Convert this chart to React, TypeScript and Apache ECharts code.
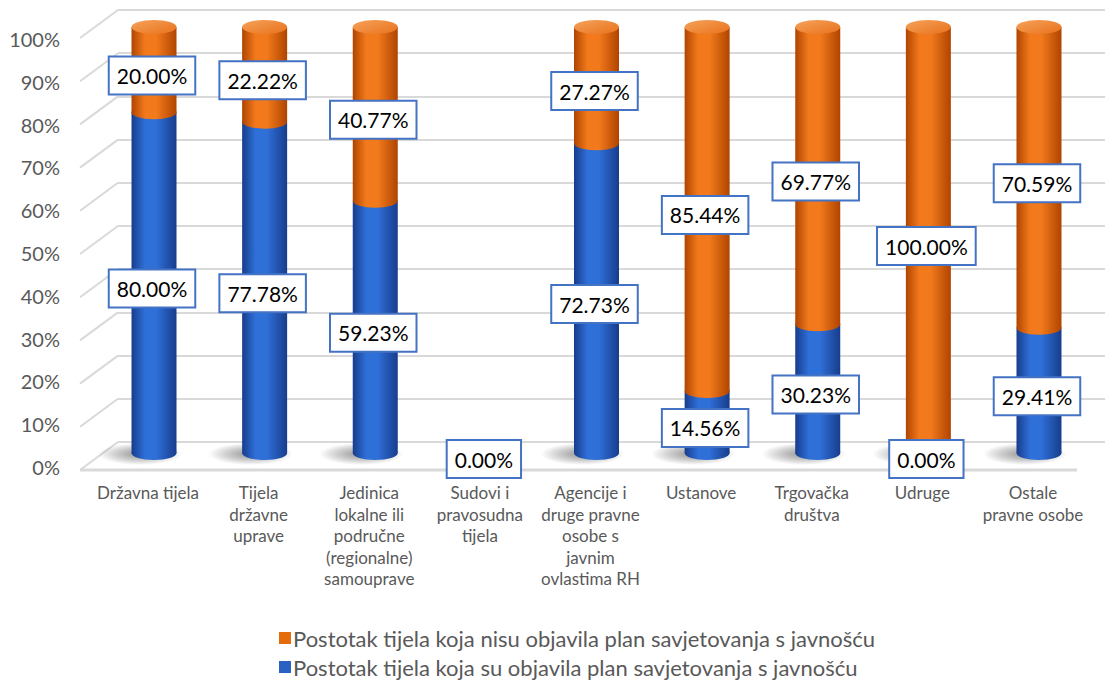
import React, { useEffect, useRef } from "react";
import * as echarts from "echarts";

const categories = [
  "Državna tijela",
  "Tijela\ndržavne\nuprave",
  "Jedinica\nlokalne ili\npodručne\n(regionalne)\nsamouprave",
  "Sudovi i\npravosudna\ntijela",
  "Agencije i\ndruge pravne\nosobe s\njavnim\novlastima RH",
  "Ustanove",
  "Trgovačka\ndruštva",
  "Udruge",
  "Ostale\npravne osobe",
];
const published: (number | null)[] = [80.0, 77.78, 59.23, 0.0, 72.73, 14.56, 30.23, 0.0, 29.41];
const notPublished: (number | null)[] = [20.0, 22.22, 40.77, null, 27.27, 85.44, 69.77, 100.0, 70.59];
const yTicks = [0, 10, 20, 30, 40, 50, 60, 70, 80, 90, 100];

const NAME_NOT = "Postotak tijela koja nisu objavila plan savjetovanja s javnošću";
const NAME_PUB = "Postotak tijela koja su objavila plan savjetovanja s javnošću";

const FONT = "Lato, 'Open Sans', sans-serif";
const BAR_W = 45;
const RY = 7;

function makeRender(dark: string, bright: string, topA: string, topB: string, isTop: (i: number) => boolean) {
  return (params: any, api: any) => {
    const i = api.value(0);
    const lo = api.value(1);
    const hi = api.value(2);
    if (lo == null || hi == null || isNaN(lo) || isNaN(hi) || hi - lo <= 0) return null;
    const pLo = api.coord([i, lo]);
    const pHi = api.coord([i, hi]);
    const cx = pLo[0];
    const hw = BAR_W / 2;
    const grad = () =>
      new echarts.graphic.LinearGradient(0, 0, 1, 0, [
        { offset: 0, color: dark },
        { offset: 0.3, color: bright },
        { offset: 0.55, color: bright },
        { offset: 1, color: dark },
      ]);
    const children: any[] = [];
    if (lo === 0) {
      children.push({
        type: "ellipse",
        shape: { cx: cx - 14, cy: pLo[1] + 1, rx: 42, ry: 11 },
        style: {
          fill: new echarts.graphic.RadialGradient(0.5, 0.5, 0.5, [
            { offset: 0, color: "rgba(0,0,0,0.42)" },
            { offset: 0.6, color: "rgba(0,0,0,0.18)" },
            { offset: 1, color: "rgba(0,0,0,0)" },
          ]),
        },
      });
    }
    children.push({
      type: "ellipse",
      shape: { cx, cy: pLo[1], rx: hw, ry: RY },
      style: { fill: grad() },
    });
    children.push({
      type: "rect",
      shape: { x: cx - hw, y: pHi[1], width: hw * 2, height: pLo[1] - pHi[1] },
      style: { fill: grad() },
    });
    if (isTop(i)) {
      children.push({
        type: "ellipse",
        shape: { cx, cy: pHi[1], rx: hw, ry: RY },
        style: {
          fill: new echarts.graphic.LinearGradient(0, 0, 1, 1, [
            { offset: 0, color: topA },
            { offset: 1, color: topB },
          ]),
        },
      });
    }
    return { type: "group", children };
  };
}

export default function App() {
  const ref = useRef<HTMLDivElement>(null);
  useEffect(() => {
    document.body.style.margin = "0";
    const chart = echarts.init(ref.current!, null, { renderer: "svg" });
    const blueData = published.map((v, i) => [i, 0, v == null ? null : v]);
    const orangeData = notPublished.map((v, i) =>
      v == null ? [i, null, null] : [i, published[i] ?? 0, (published[i] ?? 0) + v]
    );
    const labelCommon = {
      show: true,
      position: "inside",
      offset: [-2, 6],
      formatter: (p: any) => (p.value == null ? "" : Number(p.value).toFixed(2) + "%"),
      color: "#000",
      fontSize: 21,
      fontFamily: FONT,
      backgroundColor: "#fff",
      borderColor: "#4472c4",
      borderWidth: 2,
      padding: [9, 7, 6, 7],
    };
    chart.setOption({
      animation: false,
      textStyle: { fontFamily: FONT },
      grid: [
        { left: 118, right: 0, top: 10, height: 432 },
        { left: 68, right: 0, top: 39, height: 428 },
        { left: 98.7, right: 10.7, top: 27, bottom: 231 },
      ],
      xAxis: [
        { gridIndex: 0, type: "value", min: 0, max: 1, show: false },
        { gridIndex: 1, type: "value", min: 0, max: 1, show: false },
        {
          gridIndex: 2,
          type: "category",
          data: categories,
          axisLine: { show: false },
          axisTick: { show: false },
          axisLabel: {
            interval: 0,
            margin: 29,
            fontSize: 17,
            lineHeight: 21.5,
            color: "#595959",
            fontFamily: FONT,
            padding: [0, 12, 0, 0],
          },
        },
      ],
      yAxis: [
        {
          gridIndex: 0,
          type: "value",
          min: 0,
          max: 100,
          interval: 10,
          axisLabel: { show: false },
          axisLine: { show: false },
          axisTick: { show: false },
          splitLine: { show: true, lineStyle: { color: "#d9d9d9", width: 2 } },
        },
        {
          gridIndex: 1,
          type: "value",
          min: 0,
          max: 100,
          interval: 10,
          axisLabel: { formatter: "{value}%", fontSize: 20, color: "#595959", margin: 8, fontFamily: FONT },
          axisLine: { show: false },
          axisTick: { show: false },
          splitLine: { show: false },
        },
        {
          gridIndex: 2,
          type: "value",
          min: 0,
          max: 100,
          show: false,
          splitLine: { show: false },
        },
      ],
      legend: {
        orient: "vertical",
        left: 279,
        top: 626,
        height: 56,
        padding: 0,
        itemGap: 5,
        itemWidth: 12,
        itemHeight: 12,
        icon: "rect",
        textStyle: { fontSize: 22, lineHeight: 24, color: "#595959", fontFamily: FONT, padding: [0, 0, 0, -3] },
        data: [NAME_NOT, NAME_PUB],
      },
      series: [
        {
          type: "custom",
          name: "walls",
          xAxisIndex: 0,
          yAxisIndex: 0,
          silent: true,
          data: yTicks.map((t) => [0, t]),
          encode: { x: 0, y: 1 },
          renderItem: (params: any, api: any) => {
            const v = api.value(1);
            const p = api.coord([0, v]);
            const children: any[] = [
              {
                type: "line",
                shape: { x1: p[0], y1: p[1], x2: p[0] - 38, y2: p[1] + 28 },
                style: { stroke: "#d9d9d9", lineWidth: 2 },
              },
            ];
            if (v === 0) {
              children.push({
                type: "line",
                shape: { x1: p[0] - 38, y1: p[1] + 28, x2: p[0] + 959, y2: p[1] + 28 },
                style: { stroke: "#d9d9d9", lineWidth: 3 },
              });
            }
            return { type: "group", children };
          },
          z: 1,
        },
        {
          type: "custom",
          name: NAME_PUB,
          xAxisIndex: 2,
          yAxisIndex: 2,
          data: blueData,
          encode: { x: 0, y: [1, 2] },
          itemStyle: { color: "#2a62c4" },
          renderItem: makeRender("#173d8c", "#2f6fd8", "#4d8be6", "#2a62c4", (i) => notPublished[i] == null),
          z: 3,
        },
        {
          type: "custom",
          name: NAME_NOT,
          xAxisIndex: 2,
          yAxisIndex: 2,
          data: orangeData,
          encode: { x: 0, y: [1, 2] },
          itemStyle: { color: "#e46c0a" },
          renderItem: makeRender("#b04400", "#f27a1c", "#f6a25a", "#e8721c", () => true),
          z: 4,
        },
        {
          type: "bar",
          name: "lbl-pub",
          xAxisIndex: 2,
          yAxisIndex: 2,
          stack: "s",
          barWidth: BAR_W,
          data: published,
          itemStyle: { color: "rgba(0,0,0,0)" },
          label: labelCommon,
          silent: true,
          z: 10,
        },
        {
          type: "bar",
          name: "lbl-not",
          xAxisIndex: 2,
          yAxisIndex: 2,
          stack: "s",
          barWidth: BAR_W,
          data: notPublished,
          itemStyle: { color: "rgba(0,0,0,0)" },
          label: labelCommon,
          silent: true,
          z: 10,
        },
      ],
    });
    return () => chart.dispose();
  }, []);
  return <div ref={ref} style={{ position: "absolute", left: 0, top: 0, width: 1105, height: 684 }} />;
}
